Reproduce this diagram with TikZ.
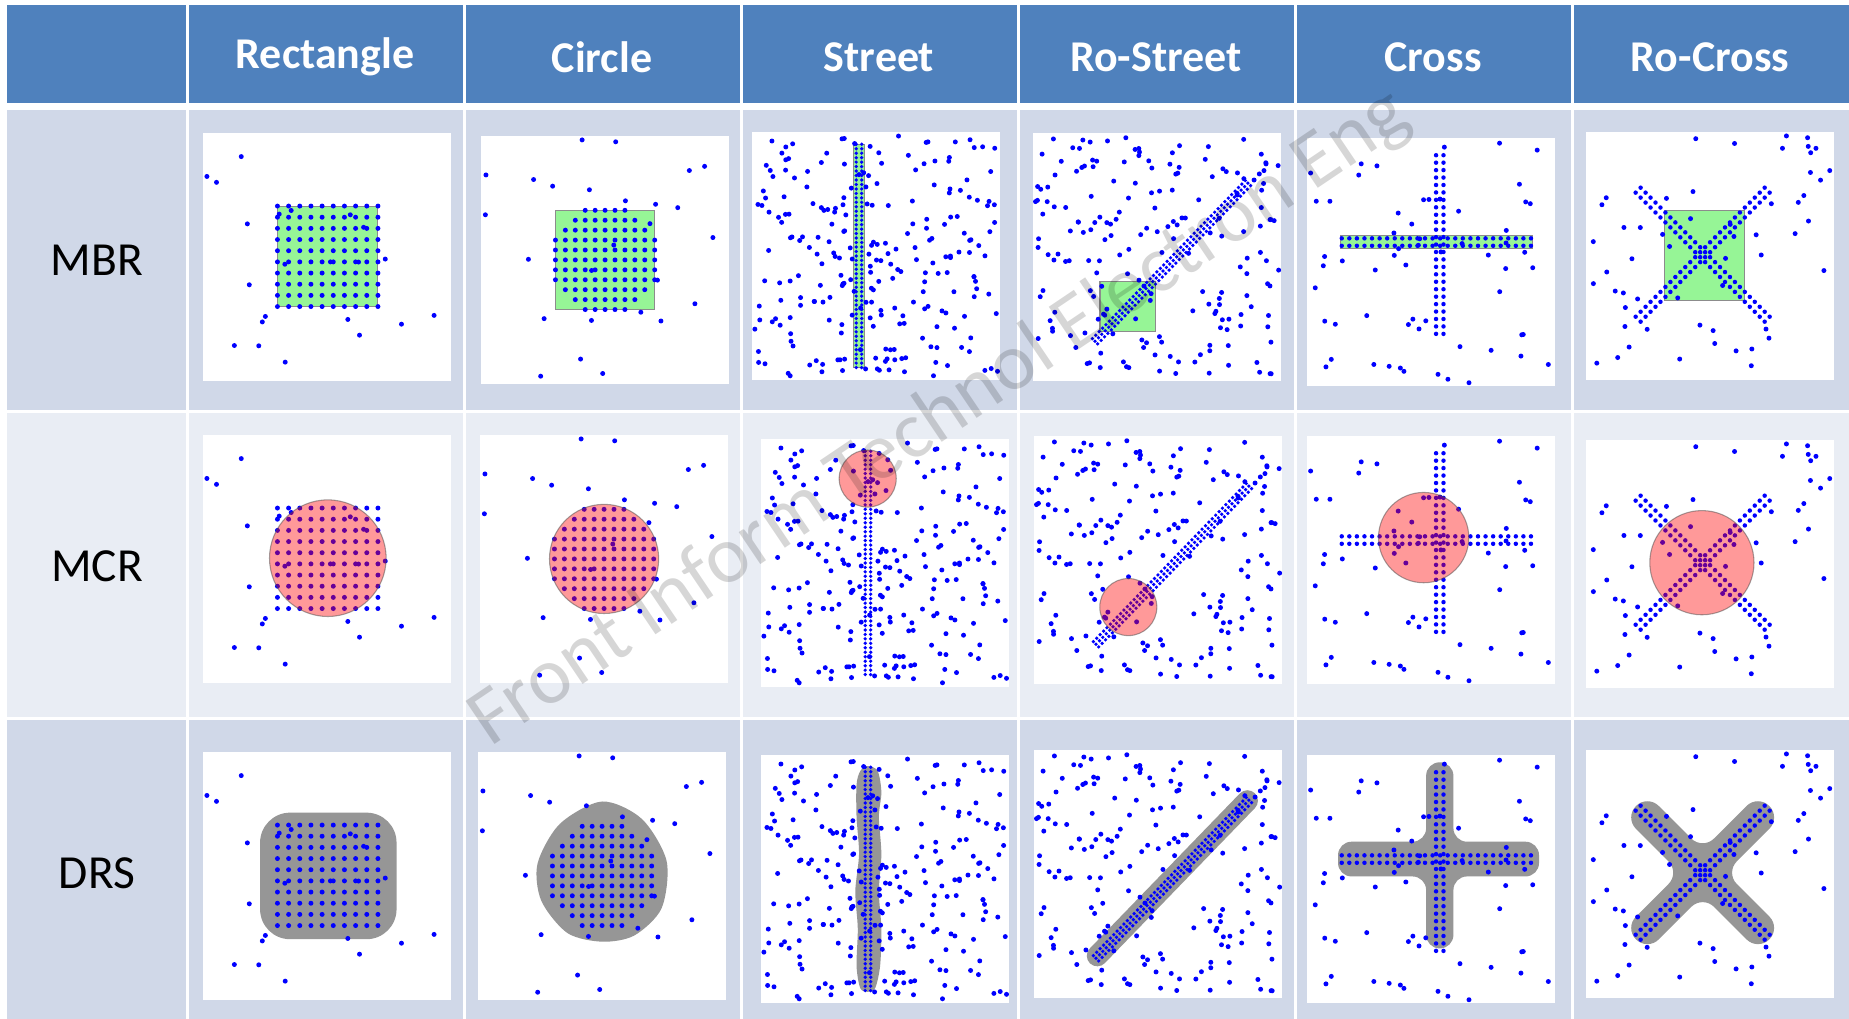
\documentclass[tikz,border=0pt]{standalone}
\usepackage{fontspec}
\setmainfont{Carlito}
\newfontfamily\markfont{Carlito}

\definecolor{headblue}{RGB}{79,129,189}
\definecolor{banddark}{RGB}{208,216,232}
\definecolor{bandlight}{RGB}{233,237,244}
\definecolor{mbrgreen}{RGB}{150,245,150}
\definecolor{drsgray}{RGB}{150,150,150}
\definecolor{dotblue}{RGB}{0,0,255}

% point sets, shared by the three rows
\newcommand\noise[2]{\pgfmathsetseed{#1}%
  \foreach \k in {1,...,#2} {\fill[dot] ({1+98*rnd},{1+98*rnd}) circle (1);}}
\newcommand\rectdots{\foreach \i in {0,...,9} \foreach \j in {0,...,9}
  {\fill[dot] ({30+4.5*\i},{30+4.5*\j}) circle (1);}}
\newcommand\circdots{\foreach \i in {-5,...,5} \foreach \j in {-5,...,5}
  {\pgfmathtruncatemacro\inside{(\i*\i+\j*\j)<31}%
   \ifnum\inside=1 \fill[dot] ({50+4*\i},{50+4*\j}) circle (1); \fi}}
\newcommand\streetdots{\foreach \j in {0,...,50}
  {\fill[dot] (42,{5+1.8*\j}) circle (0.75); \fill[dot] (44.2,{5+1.8*\j}) circle (0.75);}}
\newcommand\rostreetdots{\foreach \t in {0,...,45} \foreach \o in {-1,0,1}
  {\fill[dot] ({25+1.97*\t*0.695-\o*1.5*0.719},{16+1.97*\t*0.719+\o*1.5*0.695}) circle (0.75);}}
\newcommand\crossdots{\foreach \j in {0,...,24}
  {\fill[dot] (52,{21+3*\j}) circle (0.9); \fill[dot] (55,{21+3*\j}) circle (0.9);}
  \foreach \i in {0,...,25}
  {\fill[dot] ({14+3.05*\i},56.5) circle (0.9); \fill[dot] ({14+3.05*\i},59.5) circle (0.9);}}
\newcommand\rocrossdots{\foreach \k in {-13,...,13} \foreach \o in {-1,1}
  {\fill[dot] ({47+2*\k+\o},{50.5+2*\k-\o}) circle (0.9);
   \fill[dot] ({47+2*\k-\o},{50.5-2*\k-\o}) circle (0.9);}}

\begin{document}
\begin{tikzpicture}[
    x=0.01cm, y=-0.01cm,
    headtext/.style={text=white, font=\bfseries\fontsize{12.5}{15}\selectfont},
    rowtext/.style={text=black, font=\fontsize{13.5}{16}\selectfont},
    panel/.style={fill=white},
    dot/.style={fill=dotblue},
    mbr/.style={fill=mbrgreen, draw=black!45, line width=0.3pt},
    mcr/.style={fill=red, fill opacity=0.4, draw=black!70, draw opacity=0.5, line width=0.3pt},
    drs/.style={fill=drsgray},
    watermark/.style={font=\markfont\fontsize{23}{27}\selectfont, text=black, text opacity=0.16, rotate=34}
  ]
    \useasboundingbox (0,0) rectangle (1849,1019);
    \fill[white] (0,0) rectangle (1849,1019);

    % table cells
    \fill[headblue] (7,5) rectangle (1849,103);
    \fill[banddark] (7,110) rectangle (1849,410);
    \fill[bandlight] (7,413) rectangle (1849,717);
    \fill[banddark] (7,720) rectangle (1849,1019);
    \foreach \c in {0,...,5}
      \fill[white] ({186+277*\c},0) rectangle ({189+277*\c},1019);

    \node[headtext] (h-rect) at (325,57) {Rectangle};
    \node[headtext] (h-circ) at (602,57) {Circle};
    \node[headtext] (h-street) at (879,57) {Street};
    \node[headtext] (h-rostreet) at (1156,57) {Ro-Street};
    \node[headtext] (h-cross) at (1433,57) {Cross};
    \node[headtext] (h-rocross) at (1710,57) {Ro-Cross};

    \node[rowtext] (r-mbr) at (97,260) {MBR};
    \node[rowtext] (r-mcr) at (97,566) {MCR};
    \node[rowtext] (r-drs) at (97,873) {DRS};

    % MBR row
    \begin{scope}[shift={(203,381)}, x=0.248mm, y=0.248mm]
      \fill[panel] (0,0) rectangle (100,100);
      \fill[mbr] (30,30) rectangle (70.5,70.5);
      \rectdots \noise{11}{22}
    \end{scope}
    \begin{scope}[shift={(481,384)}, x=0.248mm, y=0.248mm]
      \fill[panel] (0,0) rectangle (100,100);
      \fill[mbr] (30,30) rectangle (70,70);
      \circdots \noise{23}{26}
    \end{scope}
    \begin{scope}[shift={(752,380)}, x=0.248mm, y=0.248mm]
      \fill[panel] (0,0) rectangle (100,100);
      \fill[mbr] (41,5) rectangle (45.2,95);
      \streetdots \noise{37}{240}
    \end{scope}
    \begin{scope}[shift={(1033,381)}, x=0.248mm, y=0.248mm]
      \fill[panel] (0,0) rectangle (100,100);
      \fill[mbr] (27,20) rectangle (49.5,40);
      \rostreetdots \noise{41}{190}
    \end{scope}
    \begin{scope}[shift={(1307,386)}, x=0.248mm, y=0.248mm]
      \fill[panel] (0,0) rectangle (100,100);
      \fill[mbr] (13.5,55.3) rectangle (91,60.7);
      \crossdots \noise{53}{60}
    \end{scope}
    \begin{scope}[shift={(1586,380)}, x=0.248mm, y=0.248mm]
      \fill[panel] (0,0) rectangle (100,100);
      \fill[mbr] (31.5,32) rectangle (64,68.3);
      \rocrossdots \noise{67}{55}
    \end{scope}

    % MCR row
    \begin{scope}[shift={(203,683)}, x=0.248mm, y=0.248mm]
      \fill[panel] (0,0) rectangle (100,100);
      \rectdots \noise{11}{22}
      \filldraw[mcr] (50.3,50.3) circle (23.5);
    \end{scope}
    \begin{scope}[shift={(480,683)}, x=0.248mm, y=0.248mm]
      \fill[panel] (0,0) rectangle (100,100);
      \circdots \noise{23}{26}
      \filldraw[mcr] (50,50) circle (22);
    \end{scope}
    \begin{scope}[shift={(761,687)}, x=0.248mm, y=0.248mm]
      \fill[panel] (0,0) rectangle (100,100);
      \streetdots \noise{37}{240}
      \filldraw[mcr] (43,84) circle (11.5);
    \end{scope}
    \begin{scope}[shift={(1034,684)}, x=0.248mm, y=0.248mm]
      \fill[panel] (0,0) rectangle (100,100);
      \rostreetdots \noise{41}{190}
      \filldraw[mcr] (38,31) circle (11.5);
    \end{scope}
    \begin{scope}[shift={(1307,684)}, x=0.248mm, y=0.248mm]
      \fill[panel] (0,0) rectangle (100,100);
      \crossdots \noise{53}{60}
      \filldraw[mcr] (47,59) circle (18.2);
    \end{scope}
    \begin{scope}[shift={(1586,688)}, x=0.248mm, y=0.248mm]
      \fill[panel] (0,0) rectangle (100,100);
      \rocrossdots \noise{67}{55}
      \filldraw[mcr] (46.7,50.5) circle (21);
    \end{scope}

    % DRS row
    \begin{scope}[shift={(203,1000)}, x=0.248mm, y=0.248mm]
      \fill[panel] (0,0) rectangle (100,100);
      \fill[drs, rounded corners=3mm] (23,24.5) rectangle (78,75.5);
      \rectdots \noise{11}{22}
    \end{scope}
    \begin{scope}[shift={(478,1000)}, x=0.248mm, y=0.248mm]
      \fill[panel] (0,0) rectangle (100,100);
      \fill[drs] plot[smooth cycle] coordinates {(50,80) (66,73) (76,56) (74,37)
        (63,26) (50,23.5) (36,27) (25.5,40) (24,55) (33,71)};
      \circdots \noise{23}{26}
    \end{scope}
    \begin{scope}[shift={(761,1003)}, x=0.248mm, y=0.248mm]
      \fill[panel] (0,0) rectangle (100,100);
      \fill[drs] plot[smooth cycle] coordinates {(43,95.5) (47,93.5) (48.5,85) (47.5,75)
        (48.5,60) (47.5,45) (48.5,30) (48,15) (46,6) (43,4.5) (40,6) (38.5,15)
        (39,30) (38,45) (39.5,60) (38.5,75) (38.5,88) (40,93.5)};
      \streetdots \noise{37}{240}
    \end{scope}
    \begin{scope}[shift={(1034,998)}, x=0.248mm, y=0.248mm]
      \fill[panel] (0,0) rectangle (100,100);
      \draw[drsgray, line width=2.1mm, line cap=round] (25.5,17) -- (86,79.5);
      \rostreetdots \noise{41}{190}
    \end{scope}
    \begin{scope}[shift={(1307,1003)}, x=0.248mm, y=0.248mm]
      \fill[panel] (0,0) rectangle (100,100);
      \fill[drs, rounded corners=1.35mm] (48,97) -- (59,97) -- (59,65) -- (93.5,65)
        -- (93.5,51) -- (59,51) -- (59,22) -- (48,22) -- (48,51)
        -- (12.5,51) -- (12.5,65) -- (48,65) -- cycle;
      \crossdots \noise{53}{60}
    \end{scope}
    \begin{scope}[shift={(1586,998)}, x=0.248mm, y=0.248mm]
      \fill[panel] (0,0) rectangle (100,100);
      \fill[drs, rounded corners=1.6mm, rotate around={45:(47,50.5)}] (40.5,88.5) -- (53.5,88.5)
        -- (53.5,57) -- (85,57) -- (85,44) -- (53.5,44) -- (53.5,12.5) -- (40.5,12.5)
        -- (40.5,44) -- (9,44) -- (9,57) -- (40.5,57) -- cycle;
      \rocrossdots \noise{67}{55}
    \end{scope}

    \node[watermark] (wm) at (940,418) {Front Inform Technol Electron Eng};
\end{tikzpicture}
\end{document}
